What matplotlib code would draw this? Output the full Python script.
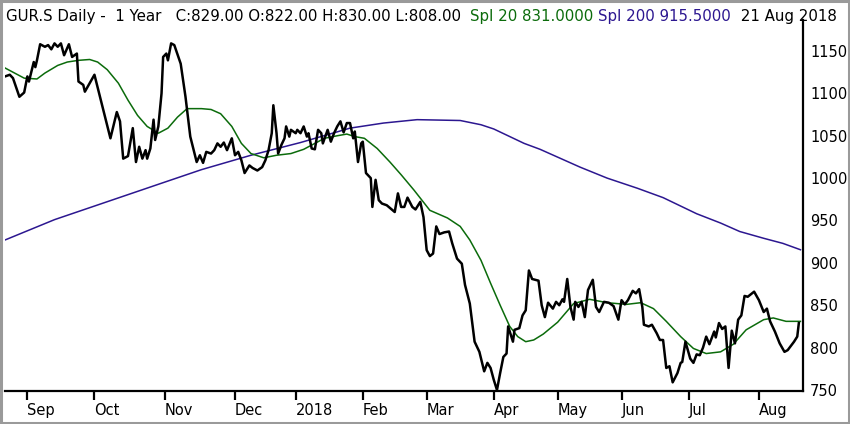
import matplotlib
matplotlib.use("Agg")
import matplotlib.pyplot as plt
from matplotlib.patches import Rectangle

# trading-day index (0 = 1 Sep 2017) and daily close
close_day = [-7, -5.5, -4.5, -2.5, -1, 0, 0.5, 2, 2.5, 3, 4, 5.5, 6.5, 7.5, 8.5, 9.5, 10.5, 11.5, 13, 14,
             15.5, 16, 17.5, 18, 19.5, 21, 23, 24.5, 26, 28, 29, 30, 31.5, 33, 34, 35, 36, 37, 37.5, 38.5,
             39.5, 40, 41, 42, 42.5, 43.5, 44, 45, 46, 48, 49.5, 51, 53, 54, 55, 56, 57.5, 58.5, 59.5, 60.5,
             61.5, 62.5, 64, 65, 66, 67, 68, 69.5, 70.5, 72, 73.5, 74.5, 75.5, 76.5, 77, 78, 78.5, 79.5, 80.5, 81,
             82, 82.5, 84, 84.5, 85.5, 86.5, 87.5, 88, 89, 90, 91, 92, 92.5, 94, 95, 96, 97, 98, 99, 100,
             101, 102, 102.5, 103.5, 104.5, 105, 106, 107.5, 108, 109, 110, 111, 112.5, 115, 116, 117, 118, 119, 120.5, 121.5,
             123, 124, 125, 126, 127, 128, 129, 130.5, 132, 133, 134.5, 136, 137, 138.5, 140, 141.5, 143, 144, 145, 146,
             147, 148, 149, 150, 150.5, 152, 152.5, 154, 155, 156, 157, 158, 160, 161, 162, 163, 164.5, 165.5, 166.5, 167.5,
             168, 169, 170, 171, 171.5, 172.5, 173.5, 174.5, 175.5, 177, 178, 179, 180.5, 182, 183.5, 185, 186, 187, 188, 189.5,
             190.5, 191.5, 192.5, 193, 194.5, 195.5, 197, 198, 199, 200, 201, 202, 203.5, 204.5, 205, 206, 207.5, 208.5, 209.5, 210.5,
             211.5, 212.5, 213.5, 215, 215.5, 216.5, 217.5, 218.5, 219.5, 220.5, 221.5, 222.5, 223.5, 224.5, 225.5, 227.5, 229, 230.5, 231.5, 232.5,
             234, 235.5, 237, 238, 240, 241, 241.5]
close_val = [1120, 1122, 1118, 1096, 1101, 1120, 1114, 1137, 1131, 1139, 1158, 1155, 1157, 1152, 1159, 1155, 1159, 1145, 1158, 1143,
             1147, 1114, 1110, 1102, 1112, 1122, 1092, 1069, 1047, 1078, 1067, 1023, 1026, 1059, 1019, 1037, 1023, 1033, 1023, 1035,
             1069, 1045, 1061, 1100, 1143, 1147, 1139, 1159, 1157, 1135, 1096, 1049, 1019, 1027, 1018, 1031, 1029, 1033, 1041, 1037,
             1042, 1033, 1047, 1027, 1031, 1021, 1006, 1015, 1012, 1009, 1013, 1021, 1033, 1053, 1086, 1053, 1029, 1039, 1047, 1061,
             1049, 1057, 1053, 1057, 1053, 1061, 1049, 1053, 1035, 1034, 1057, 1053, 1041, 1057, 1043, 1053, 1061, 1067, 1054, 1065,
             1065, 1047, 1055, 1019, 1041, 1043, 1006, 1000, 966, 998, 974, 970, 968, 960, 982, 966, 966, 977, 966, 963,
             972, 954, 915, 908, 911, 943, 934, 936, 937, 923, 905, 899, 874, 852, 807, 795, 772, 782, 776, 762,
             750, 770, 789, 793, 825, 807, 821, 823, 838, 844, 891, 881, 879, 850, 836, 853, 846, 854, 850, 857,
             854, 881, 848, 833, 854, 848, 854, 836, 868, 880, 848, 842, 854, 853, 849, 833, 856, 851, 856, 867,
             864, 869, 848, 827, 825, 827, 817, 809, 809, 776, 778, 759, 770, 782, 783, 807, 787, 782, 792, 791,
             800, 813, 804, 819, 812, 829, 822, 825, 776, 820, 805, 833, 838, 861, 860, 866, 856, 842, 846, 831,
             819, 805, 795, 797, 807, 813, 829]

# Spl 20 (green)
sma20_day = [-7, -4, -1, 3, 5.5, 9.5, 12.5, 16, 19.5, 22, 25, 28.5, 31.5, 34.5, 37.5, 41, 44, 47, 50, 54.5,
             57.5, 60.5, 64, 67, 70, 74, 78, 82.5, 86.5, 90, 93, 97, 100, 102.5, 105.5, 109.5, 113.5, 117, 121, 126,
             131.5, 135.5, 138.5, 142, 145, 148, 151, 153.5, 156, 158.5, 161.5, 166, 171, 176, 181.5, 187.5, 192, 196, 200, 204.5,
             208.5, 212.5, 217, 221, 225, 230.5, 233.5, 237.5, 242]
sma20_val = [1130, 1124, 1118, 1117, 1124, 1133, 1137, 1139, 1140, 1137, 1128, 1112, 1092, 1074, 1061, 1053, 1059, 1072, 1082, 1082,
             1081, 1076, 1061, 1041, 1029, 1024, 1027, 1029, 1034, 1041, 1047, 1050, 1052, 1049, 1047, 1035, 1019, 1004, 986, 962,
             953, 943, 927, 903, 876, 850, 825, 813, 807, 809, 816, 830, 852, 857, 853, 851, 853, 846, 831, 813,
             799, 793, 795, 804, 821, 833, 835, 831, 831]

# Spl 200 (navy)
sma200_day = [-7, 8.5, 42, 54.5, 70, 85.5, 101, 111.5, 122, 135.5, 142, 146, 155.5, 160.5, 173, 181.5, 191, 199,
              209.5, 217, 223, 230.5, 236.5, 242]
sma200_val = [927, 951, 994, 1010, 1027, 1042, 1059, 1065, 1069, 1068, 1063, 1058, 1041, 1034, 1013, 1000, 988, 977,
              958, 947, 937, 929, 923, 915.5]

month_pos = [0, 21, 43, 65, 84, 105, 125, 146, 166, 186, 207, 229]
month_lbl = ['Sep', 'Oct', 'Nov', 'Dec', '2018', 'Feb', 'Mar', 'Apr', 'May', 'Jun', 'Jul', 'Aug']
y_ticks = [750, 800, 850, 900, 950, 1000, 1050, 1100, 1150]

GREEN = '#0b6b0b'
NAVY = '#2c1790'

fig = plt.figure(figsize=(8.5, 4.24), dpi=100)
ax = fig.add_axes([5/850, 33/424, 798/850, 371/424])

ax.plot(sma200_day, sma200_val, color=NAVY, lw=1.1)
ax.plot(sma20_day, sma20_val, color=GREEN, lw=1.1)
ax.plot(close_day, close_val, color='black', lw=1.8, solid_joinstyle='round')

ax.set_xlim(-7, 242.8)
ax.set_ylim(748.8, 1186.6)

for s in ['top', 'left']:
    ax.spines[s].set_visible(False)
ax.spines['right'].set_linewidth(1.6)
ax.spines['bottom'].set_linewidth(1.6)

ax.yaxis.tick_right()
ax.set_yticks(y_ticks)
ax.set_yticklabels([str(v) for v in y_ticks])
ax.tick_params(axis='y', length=0, pad=5, labelsize=10.5)

ax.set_xticks(month_pos)
ax.set_xticklabels(month_lbl, ha='left')
ax.tick_params(axis='x', length=6.5, width=1.6, pad=2, labelsize=10.5, direction='out')

# header line, pieces chained left to right
t = fig.text(6/850, 1 - 21/424, 'GUR.S Daily -  1 Year   C:829.00 O:822.00 H:830.00 L:808.00  ',
             fontsize=10.8, color='black', va='baseline')
parts = [('Spl 20 831.0000 ', GREEN), ('Spl 200 915.5000 ', NAVY), (' 21 Aug 2018', 'black')]
for s, c in parts:
    t = ax.annotate(s, xy=(1, 0), xycoords=t, fontsize=10.8, color=c, va='bottom',
                    annotation_clip=False)

fig.patches.append(Rectangle((0.0015, 0.003), 0.997, 0.994, transform=fig.transFigure,
                             fill=False, edgecolor='#9a9a9a', lw=2.2))

fig.savefig('out.png', dpi=100)
